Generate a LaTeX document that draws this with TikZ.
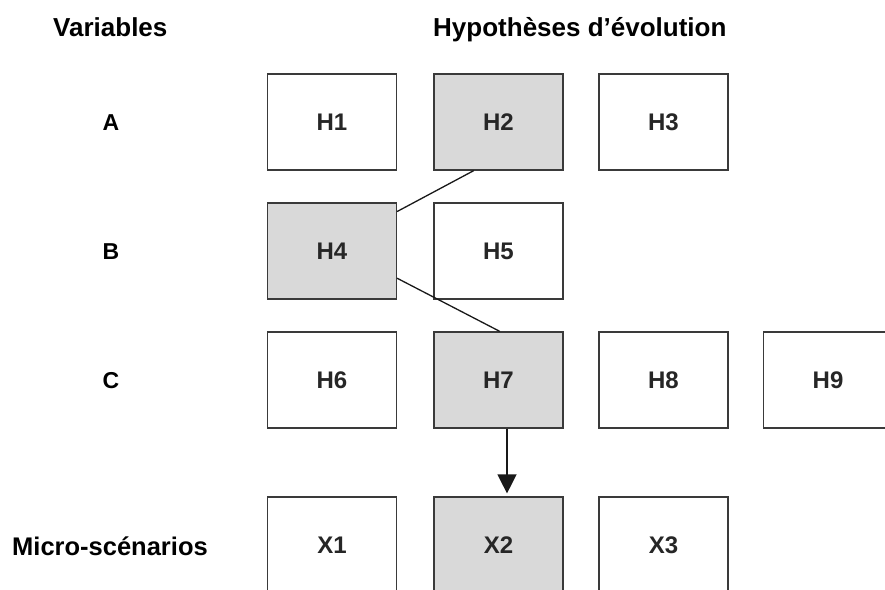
\documentclass[tikz,border=0pt]{standalone}
\usepackage{fontspec}
\setmainfont{Liberation Sans}
\usetikzlibrary{arrows.meta,calc}
\definecolor{boxgray}{HTML}{D9D9D9}
\definecolor{edgegray}{HTML}{3A3A3A}
\begin{document}
\begin{tikzpicture}[x=1pt,y=-1pt,
  hbox/.style={draw=edgegray,line width=1.2pt,fill=white,minimum width=129pt,minimum height=96pt,inner sep=0pt,
    font=\fontsize{24}{28}\selectfont\bfseries,text=black!85},
  hsel/.style={hbox,fill=boxgray},
  rowlab/.style={anchor=base,font=\fontsize{23}{27}\selectfont\bfseries,inner sep=0pt},
  head/.style={anchor=base west,font=\fontsize{26}{30}\selectfont\bfseries,inner sep=0pt},
  link/.style={line width=1.3pt,draw=black!90},
  arr/.style={line width=1.3pt,draw=black!90,-{Triangle[width=19pt,length=19pt]}}]
\useasboundingbox (0,0) rectangle (885,589);
\fill[white] (0,0) rectangle (885,589);
% headers
\node[head] (hvar) at (53,36) {Variables};
\node[head] (hhyp) at (433,36) {Hypothèses d’évolution};
% row labels
\node[rowlab] (la) at (111,130.5) {A};
\node[rowlab] (lb) at (111,259.5) {B};
\node[rowlab] (lc) at (111,388.5) {C};
\node[head,font=\fontsize{25.5}{30}\selectfont\bfseries] (lx) at (12,555) {Micro-scénarios};
% boxes
\node[hbox] (h1) at (332,122) {H1};
\node[hsel] (h2) at (498.5,122) {H2};
\node[hbox] (h3) at (663.5,122) {H3};
\node[hsel] (h4) at (332,251) {H4};
\node[hbox] (h5) at (498.5,251) {H5};
\node[hbox] (h6) at (332,380) {H6};
\node[hsel] (h7) at (498.5,380) {H7};
\node[hbox] (h8) at (663.5,380) {H8};
\node[hbox] (h9) at (828,380) {H9};
\node[hbox] (x1) at (332,545) {X1};
\node[hsel] (x2) at (498.5,545) {X2};
\node[hbox] (x3) at (663.5,545) {X3};
% connectors
\draw[link] ($(h2.south west)!0.31!(h2.south east)$) -- ($(h4.north east)!0.094!(h4.south east)$);
\draw[link] ($(h4.north east)!0.78!(h4.south east)$) -- ($(h7.north west)!0.51!(h7.north east)$);
\draw[arr] ($(h7.south)+(8.5,0)$) -- ($(x2.north)+(8.5,-3)$);
\end{tikzpicture}
\end{document}
